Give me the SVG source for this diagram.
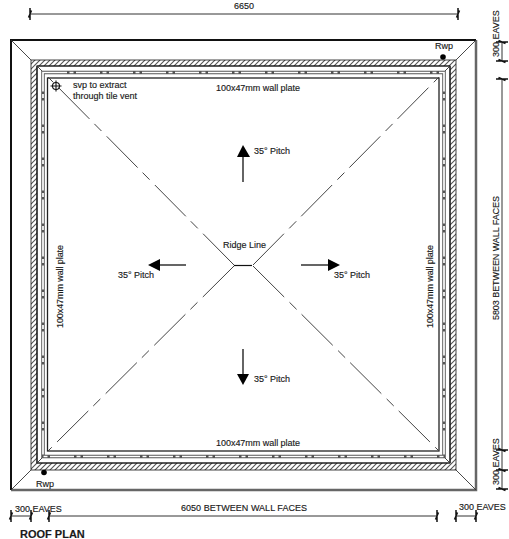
<svg xmlns="http://www.w3.org/2000/svg" width="509" height="539" viewBox="0 0 509 539">
<defs>
<pattern id="h" width="5" height="5" patternUnits="userSpaceOnUse"><path d="M-1 6L6 -1M-1 1L1 -1M4 6L6 4" stroke="#555" stroke-width="1.100" fill="none"/></pattern>
<path id="t" d="M-1.500 3.500L1.500 -3.500M0 -6V6" stroke="#111" stroke-width="1.500" fill="none"/>
<path id="ty" d="M-3.500 -1.500L3.500 1.500M-6 0H6" stroke="#111" stroke-width="1.500" fill="none"/>
</defs>
<style>
text{font-family:"Liberation Sans",Arial,sans-serif;font-size:9px;fill:#1a1a1a;stroke:#1a1a1a;stroke-width:.15}
.d{stroke:#333;stroke-width:1;fill:none}
.r{stroke:#333;stroke-width:.9;fill:none}
.dg{stroke:#444;stroke-width:1;fill:none;stroke-dasharray:44 7.500 10 7}
.s{stroke:#111;stroke-width:1.300;fill:none}
</style>
<rect width="509" height="539" fill="#fff"/>
<g id="roof-outline">
<path d="M476 40V490H11" fill="none" stroke="#666" stroke-width="2.500"/>
<path d="M11 490V40H476" fill="none" stroke="#111" stroke-width="2"/>
<path d="M11 40L31 60M476 40L456 60M11 490L31 470M476 490L456 470" class="r"/>
</g>
<g id="wall">
<path fill-rule="evenodd" fill="url(#h)" stroke="#111" stroke-width=".8" d="M31 60H456V470H31ZM37 66V463H450V66Z"/>
<path d="M37 66H450V463H37Z" fill="none" stroke="#111" stroke-width="1.200"/>
<path d="M37 66L43 72M450 66L444 72M37 463L43 457M450 463L444 457" class="r"/>
<rect x="43" y="72.500" width="401" height="384" fill="none" stroke="#555" stroke-width="3.500"/>
<rect x="43" y="72.500" width="401" height="384" fill="none" stroke="#fff" stroke-width="1.700" stroke-dasharray="24 2.500 4 2.500"/>
<rect x="47.500" y="78" width="391.500" height="373" fill="none" stroke="#222" stroke-width="1.300"/>
</g>
<g id="connectors">
<path class="dg" d="M234 265L48 77M253 265L439 77M234 266L48 451M253 266L439 451"/>
<path d="M234 265.500H252" stroke="#111" stroke-width="1.200"/>
<g class="d" stroke="#111"><path d="M30 14H458"/><use href="#t" x="30" y="14"/><use href="#t" x="458" y="14"/>
<path d="M502 42V61M502 79V450M502 450V489"/><use href="#ty" x="502" y="42"/><use href="#ty" x="502" y="61"/><use href="#ty" x="502" y="79"/><use href="#ty" x="502" y="450"/><use href="#ty" x="502" y="470"/><use href="#ty" x="502" y="489"/>
<path d="M11 516H31M49 516H437M456 516H476"/><use href="#t" x="11" y="516"/><use href="#t" x="31" y="516"/><use href="#t" x="49" y="516"/><use href="#t" x="437" y="516"/><use href="#t" x="456" y="516"/><use href="#t" x="476" y="516"/></g>
<path d="M243 182V156" class="s"/><path d="M237 157L243 145L250 157Z" fill="#000"/>
<path d="M243 349V375" class="s"/><path d="M237 374L243 385L249 374Z" fill="#000"/>
<path d="M186 265H159" class="s"/><path d="M160 259L148 265L160 271Z" fill="#000"/>
<path d="M301 265H329" class="s"/><path d="M328 259L340 265L328 271Z" fill="#000"/>
</g>
<g id="svp"><circle cx="56" cy="86" r="3.500" fill="none" stroke="#111" stroke-width="1.100"/><path d="M50.500 86H61.500M56 80.500V91.500" stroke="#111" stroke-width="1.100"/></g>
<g id="rwp-top"><circle cx="443" cy="57" r="2.800" fill="#000"/></g>
<g id="rwp-bottom"><circle cx="44" cy="472.500" r="2.800" fill="#000"/></g>
<g id="labels">
<text x="244" y="9" text-anchor="middle">6650</text>
<text x="435" y="49">Rwp</text>
<text x="36" y="487">Rwp</text>
<text x="73" y="88">svp to extract</text>
<text x="73" y="99">through tile vent</text>
<text x="216" y="91" textLength="84">100x47mm wall plate</text>
<text x="216" y="446" textLength="84">100x47mm wall plate</text>
<text transform="translate(63 328) rotate(-90)" textLength="83">100x47mm wall plate</text>
<text transform="translate(433 328) rotate(-90)" textLength="83">100x47mm wall plate</text>
<text x="254" y="154">35° Pitch</text>
<text x="254" y="382">35° Pitch</text>
<text x="118" y="278">35° Pitch</text>
<text x="334" y="278">35° Pitch</text>
<text x="223" y="248">Ridge Line</text>
<text transform="translate(499 57) rotate(-90)">300 EAVES</text>
<text transform="translate(499 320) rotate(-90)" textLength="124">5803 BETWEEN WALL FACES</text>
<text transform="translate(499 485) rotate(-90)">300 EAVES</text>
<text x="15" y="512">300 EAVES</text>
<text x="181" y="511" textLength="126">6050 BETWEEN WALL FACES</text>
<text x="459" y="510">300 EAVES</text>
<text x="20" y="538" style="font-size:11px;font-weight:700">ROOF PLAN</text>
</g>
</svg>
